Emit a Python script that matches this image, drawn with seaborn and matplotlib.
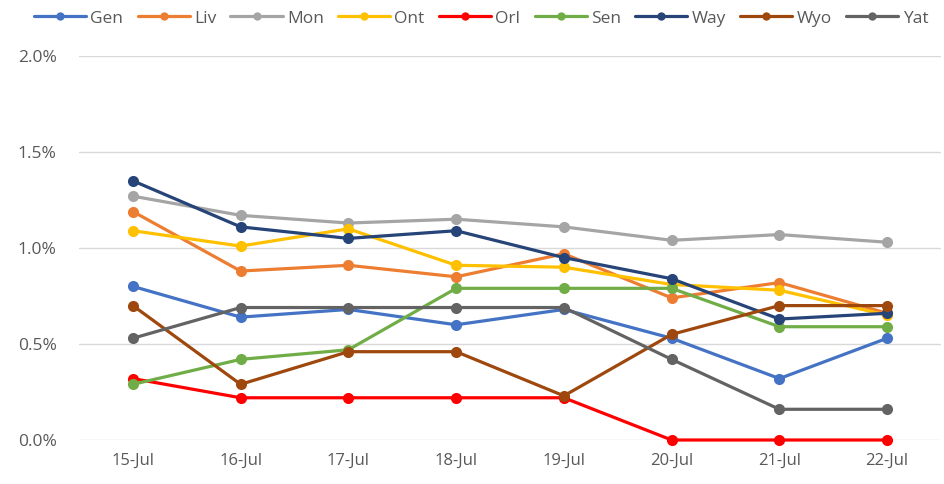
import matplotlib
matplotlib.use("Agg")
import matplotlib.pyplot as plt
import matplotlib.ticker as mticker
from matplotlib.lines import Line2D
import seaborn as sns
import pandas as pd

dates = ["15-Jul", "16-Jul", "17-Jul", "18-Jul", "19-Jul", "20-Jul", "21-Jul", "22-Jul"]
series_names = ["Gen", "Liv", "Mon", "Ont", "Orl", "Sen", "Way", "Wyo", "Yat"]

gen = [0.80, 0.64, 0.68, 0.60, 0.68, 0.53, 0.32, 0.53]
liv = [1.19, 0.88, 0.91, 0.85, 0.97, 0.74, 0.82, 0.66]
mon = [1.27, 1.17, 1.13, 1.15, 1.11, 1.04, 1.07, 1.03]
ont = [1.09, 1.01, 1.10, 0.91, 0.90, 0.81, 0.78, 0.65]
orl = [0.32, 0.22, 0.22, 0.22, 0.22, 0.00, 0.00, 0.00]
sen = [0.29, 0.42, 0.47, 0.79, 0.79, 0.79, 0.59, 0.59]
way = [1.35, 1.11, 1.05, 1.09, 0.95, 0.84, 0.63, 0.66]
wyo = [0.70, 0.29, 0.46, 0.46, 0.23, 0.55, 0.70, 0.70]
yat = [0.53, 0.69, 0.69, 0.69, 0.69, 0.42, 0.16, 0.16]

values = [gen, liv, mon, ont, orl, sen, way, wyo, yat]
colors = ["#4472C4", "#ED7D31", "#A5A5A5", "#FFC000", "#FF0000",
          "#70AD47", "#264478", "#9E480E", "#636363"]

rows = []
for name, vals in zip(series_names, values):
    for d, v in zip(dates, vals):
        rows.append({"date": d, "series": name, "value": v / 100.0})
df = pd.DataFrame(rows)

sns.set_style("white")
plt.rcParams["font.family"] = ["Open Sans", "DejaVu Sans"]

fig = plt.figure(figsize=(9.45, 4.84), dpi=100)
ax = fig.add_axes([0.0836, 0.0909, 0.9122, 0.7934])

palette = dict(zip(series_names, colors))
sns.lineplot(data=df, x="date", y="value", hue="series", hue_order=series_names,
             palette=palette, marker="o", markersize=8, markeredgewidth=0,
             linewidth=2.3, sort=False, ax=ax, legend=False)
for ln in ax.lines:
    ln.set_clip_on(False)

ax.set_xlim(-0.5, len(dates) - 0.5)
ax.set_ylim(0, 0.02)
ax.set_yticks([0, 0.005, 0.01, 0.015, 0.02])
ax.yaxis.set_major_formatter(mticker.PercentFormatter(xmax=1, decimals=1))
ax.grid(axis="y", color="#D9D9D9", linewidth=1)
ax.set_axisbelow(True)
for s in ax.spines.values():
    s.set_visible(False)
ax.tick_params(axis="y", length=0, labelsize=12.5, labelcolor="#595959", pad=16)
ax.tick_params(axis="x", length=0, labelsize=12, labelcolor="#595959", pad=9)
ax.set_xlabel("")
ax.set_ylabel("")

handles = [Line2D([0], [0], color=c, linewidth=2.3, marker="o", markersize=6,
                  markeredgewidth=0) for c in colors]
fig.legend(handles, series_names, loc="upper left", bbox_to_anchor=(0.025, 1.0),
           ncol=9, frameon=False, fontsize=12.5, handlelength=3.0, columnspacing=0.82,
           handletextpad=0.25, labelcolor="#595959", borderaxespad=0.2)

fig.savefig("out.png", dpi=100)
